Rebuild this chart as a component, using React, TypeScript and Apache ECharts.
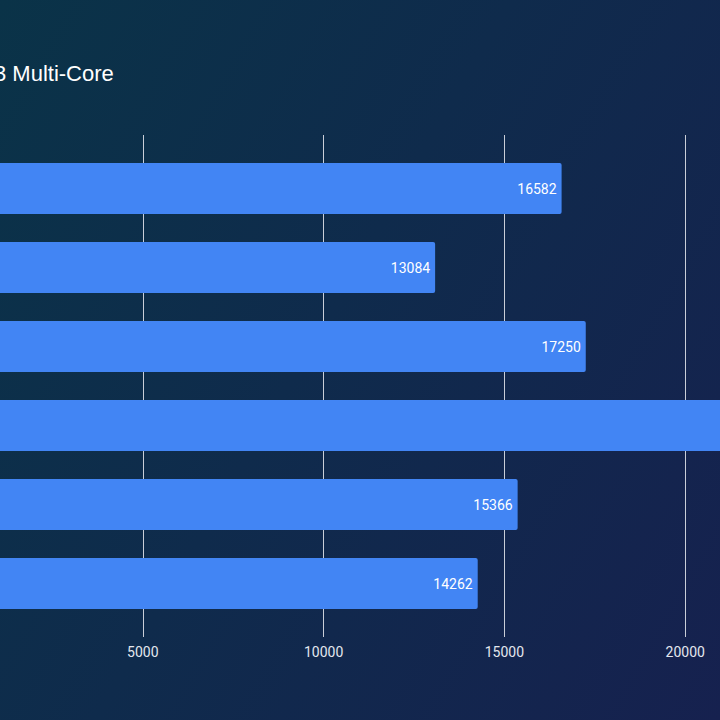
import React, { useEffect, useRef } from "react";
import * as echarts from "echarts";

// Benchmark scores, top bar first
const categories = ["A", "B", "C", "D", "E", "F"];
const scores = [16582, 13084, 17250, 22400, 15366, 14262];
const tickValues = [5000, 10000, 15000, 20000];
const titleText = "3 Multi-Core";

// The chart canvas is wider than the visible frame and shifted left,
// so the value axis origin sits just outside the frame.
const SHIFT = 200;
const CANVAS_W = 1120;

export default function App() {
  const ref = useRef<HTMLDivElement>(null);

  useEffect(() => {
    if (!ref.current) return;
    const chart = echarts.init(ref.current, null, { renderer: "svg" });

    const gridColor = "#c9ced8";

    chart.setOption({
      animation: false,
      backgroundColor: "transparent",
      graphic: [
        {
          type: "text",
          x: SHIFT - 6,
          y: 62,
          style: {
            text: titleText,
            fill: "#ffffff",
            font: "22px 'Liberation Sans', Arial, sans-serif",
          },
        },
      ],
      grid: {
        left: SHIFT - 38,
        right: 54,
        top: 149,
        bottom: 97,
        containLabel: false,
      },
      xAxis: [
        {
          type: "value",
          position: "bottom",
          min: 0,
          max: 25000,
          interval: 5000,
          axisLine: { show: false },
          axisTick: {
            show: true,
            length: 14,
            lineStyle: { color: gridColor, width: 1 },
          },
          splitLine: { show: true, lineStyle: { color: gridColor, width: 1 } },
          axisLabel: {
            color: "#e3e7ee",
            fontSize: 14,
            fontFamily: "Roboto, sans-serif",
            margin: 22,
            formatter: (v: number) => (tickValues.includes(v) ? String(v) : ""),
          },
        },
        {
          type: "value",
          position: "top",
          min: 0,
          max: 25000,
          interval: 5000,
          axisLine: { show: false },
          axisTick: {
            show: true,
            length: 14,
            lineStyle: { color: gridColor, width: 1 },
          },
          splitLine: { show: false },
          axisLabel: { show: false },
        },
      ],
      yAxis: {
        type: "category",
        data: categories,
        inverse: true,
        axisLine: { show: false },
        axisTick: { show: false },
        axisLabel: { show: false },
      },
      series: [
        {
          type: "bar",
          xAxisIndex: 0,
          data: scores,
          barWidth: 51,
          itemStyle: { color: "#4285f4", borderRadius: [0, 2, 2, 0] },
          label: {
            show: true,
            position: "insideRight",
            distance: 5,
            color: "#ffffff",
            fontSize: 14,
            fontFamily: "Roboto, sans-serif",
          },
        },
      ],
    });

    return () => chart.dispose();
  }, []);

  return (
    <div
      style={{
        position: "absolute",
        left: 0,
        top: 0,
        width: 720,
        height: 720,
        overflow: "hidden",
        background:
          "linear-gradient(120deg, #0a3348 0%, #0f2b4c 45%, #16214f 100%)",
      }}
    >
      <div
        ref={ref}
        style={{
          position: "absolute",
          left: -SHIFT,
          top: 0,
          width: CANVAS_W,
          height: 720,
        }}
      />
    </div>
  );
}
